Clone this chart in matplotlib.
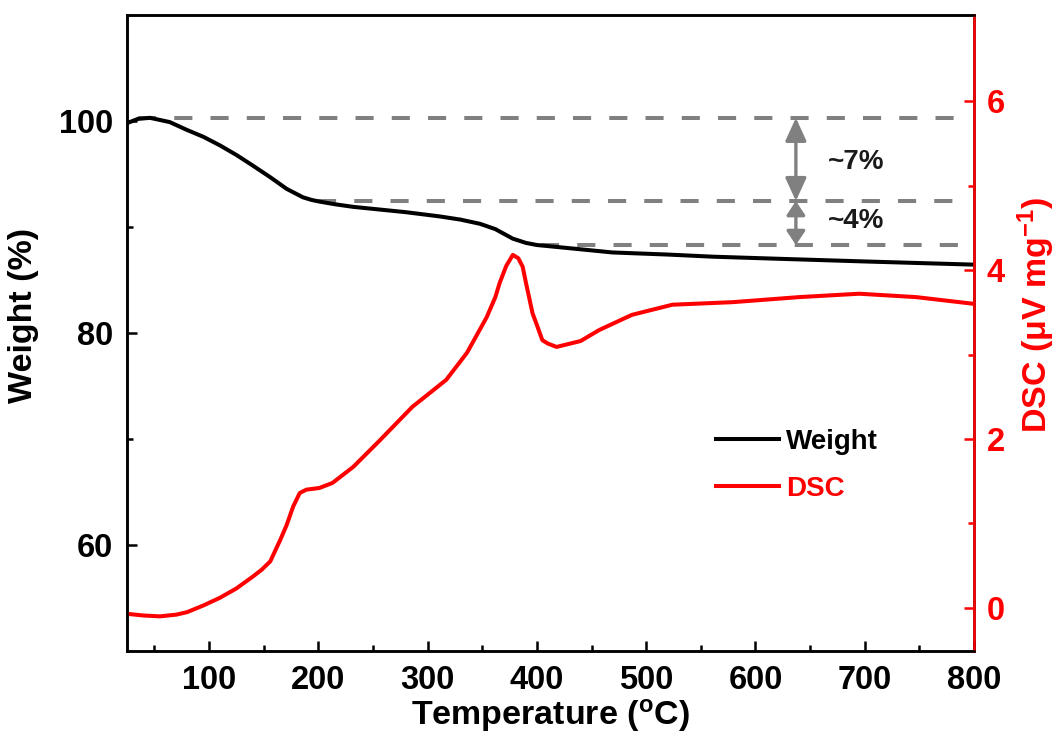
import matplotlib
matplotlib.use('Agg')
import matplotlib.pyplot as plt
from matplotlib.ticker import FixedLocator

plt.rcParams['font.family'] = 'Liberation Sans'
plt.rcParams['font.weight'] = 'bold'
plt.rcParams['mathtext.default'] = 'regular'

# weight (TGA) curve
temp_w = [25, 35, 46, 64, 80, 95, 110, 125, 140, 156, 171, 186, 194, 201, 215, 232,
          256, 280, 311, 330, 348, 362, 378, 390, 400, 420, 469, 520, 561, 622, 700, 750, 800]
weight = [99.8, 100.2, 100.3, 99.9, 99.15, 98.5, 97.7, 96.8, 95.8, 94.7, 93.6, 92.8, 92.55, 92.4,
          92.15, 91.9, 91.65, 91.4, 91.0, 90.7, 90.3, 89.8, 88.9, 88.5, 88.3, 88.1, 87.6, 87.4,
          87.2, 87.0, 86.75, 86.6, 86.45]

# DSC curve
temp_d = [25, 40, 55, 70, 80, 95, 110, 125, 140, 148, 156, 165, 171, 177, 183, 189, 201,
          213, 232, 256, 286, 317, 336, 354, 362, 366, 372, 378, 383, 387, 390, 396, 400, 405,
          410, 418, 440, 457, 487, 524, 579, 640, 695, 747, 800]
dsc = [-0.07, -0.09, -0.1, -0.08, -0.05, 0.03, 0.12, 0.23, 0.37, 0.45, 0.55, 0.80, 0.98, 1.2,
       1.36, 1.40, 1.42, 1.48, 1.67, 1.98, 2.38, 2.70, 3.02, 3.44, 3.68, 3.85, 4.05, 4.18,
       4.14, 4.04, 3.85, 3.49, 3.35, 3.17, 3.13, 3.09, 3.16, 3.29, 3.47, 3.59, 3.62, 3.68, 3.72,
       3.68, 3.6]

# reference levels (weight %) and where each dashed line starts
levels = [100.3, 92.45, 88.3]
level_start = [35, 200, 404]
level_end = 791
arrow_x = 637
steps = ['~7%', '~4%']
step_y = [96.1, 90.6]
heads = ['<|-|>,head_length=0.7,head_width=0.32', '<|-|>,head_length=0.42,head_width=0.28']

fig = plt.figure(figsize=(10.57, 7.40), dpi=100)
ax = fig.add_axes([0.1202, 0.1203, 0.8013, 0.8594])
ax2 = ax.twinx()

l1, = ax.plot(temp_w, weight, color='black', lw=2.9, label='Weight', zorder=4)
l2, = ax2.plot(temp_d, dsc, color='red', lw=2.9, label='DSC')

for lv, xs in zip(levels, level_start):
    ax.plot([xs, level_end], [lv, lv], color='#808080', lw=2.9, ls=(0, (4.5, 4.5)), zorder=3)

for i in range(2):
    ax.annotate('', xy=(arrow_x, levels[i + 1]), xytext=(arrow_x, levels[i]),
                arrowprops=dict(arrowstyle=heads[i], color='#808080', lw=2.4,
                                shrinkA=0, shrinkB=0, mutation_scale=20))
    ax.text(692, step_y[i], steps[i], fontsize=20, fontweight='bold', color='#1a1a1a',
            ha='center', va='center')

ax.set_xlim(25, 800)
ax.set_ylim(50, 110)
ax2.set_ylim(-0.51, 7.02)

ax.xaxis.set_major_locator(FixedLocator([100, 200, 300, 400, 500, 600, 700, 800]))
ax.xaxis.set_minor_locator(FixedLocator([50, 150, 250, 350, 450, 550, 650, 750]))
ax.yaxis.set_major_locator(FixedLocator([60, 80, 100]))
ax.yaxis.set_minor_locator(FixedLocator([70, 90]))
ax2.yaxis.set_major_locator(FixedLocator([0, 2, 4, 6]))
ax2.yaxis.set_minor_locator(FixedLocator([1, 3, 5]))

ax.tick_params(axis='both', which='both', direction='in', width=1.8, labelsize=23.5, pad=10)
ax.tick_params(which='major', length=7.5)
ax.tick_params(which='minor', length=4.5)
ax.tick_params(axis='y', right=False)
ax2.tick_params(axis='y', which='both', direction='in', width=1.8, colors='red',
                labelsize=23.5, pad=9)
ax2.tick_params(which='major', length=7.5)
ax2.tick_params(which='minor', length=4.5)

for a in (ax, ax2):
    for s in a.spines.values():
        s.set_linewidth(1.8)
ax2.spines['right'].set_color('red')

ax.set_xlabel('Temperature ($^{o}$C)', fontsize=24.5, fontweight='bold', labelpad=1)
ax.set_ylabel('Weight (%)', fontsize=24.5, fontweight='bold', labelpad=14)
ax2.set_ylabel('DSC (μV mg$^{-1}$)', fontsize=24.5, fontweight='bold', color='red', labelpad=8)
ax.yaxis.label.set_y(0.528)
ax2.yaxis.label.set_y(0.528)

leg = ax2.legend([l1, l2], ['Weight', 'DSC'], loc='center left',
                 bbox_to_anchor=(0.677, 0.371), bbox_transform=fig.transFigure,
                 frameon=False, fontsize=20, handlelength=2.3, handletextpad=0.25,
                 labelspacing=0.75, borderpad=0, borderaxespad=0)
leg.get_texts()[1].set_color('red')

fig.savefig('out.png', dpi=100)
